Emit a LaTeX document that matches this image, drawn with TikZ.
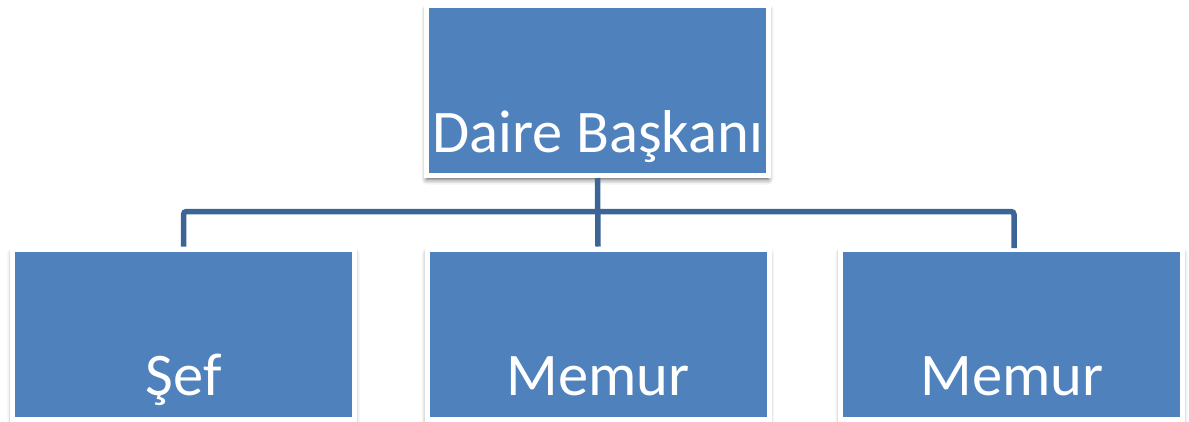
\documentclass[tikz,border=0pt]{standalone}
\usepackage{fontspec}
\setmainfont{Carlito}
\usetikzlibrary{shadows.blur}
\definecolor{boxblue}{HTML}{4F81BD}
\definecolor{connblue}{HTML}{3C6595}
\tikzset{
  orgbox/.style={rectangle, fill=boxblue, draw=white, line width=5pt,
    minimum width=342pt, minimum height=170pt, inner sep=0pt,
    blur shadow={shadow xshift=0pt, shadow yshift=-4pt, shadow blur radius=5pt, shadow opacity=65}},
  orgtext/.style={anchor=base, text=white, inner sep=0pt, font=\fontsize{60.5}{72}\selectfont},
  conn/.style={draw=connblue, line width=5.5pt, rounded corners=3pt}
}
\begin{document}
\begin{tikzpicture}[x=1pt,y=-1pt]
\useasboundingbox (0,0) rectangle (1189,421);
\node[orgbox] (top) at (597.5,90.5) {};
\node[orgbox] (sef) at (183.5,334) {};
\node[orgbox] (m1) at (598,334) {};
\node[orgbox] (m2) at (1011.5,334) {};
\coordinate (rj) at (1014,248);
\draw[conn] (top.south) -- (m1.north);
\draw[conn] (sef.north) -- ++(0,-35) -| (rj);
\node[orgtext] (ttop) at (597.5,152) {Daire Başkanı};
\node[orgtext] (tsef) at (183.5,395) {Şef};
\node[orgtext] (tm1) at (598,395) {Memur};
\node[orgtext] (tm2) at (1012,395) {Memur};
\end{tikzpicture}
\end{document}
